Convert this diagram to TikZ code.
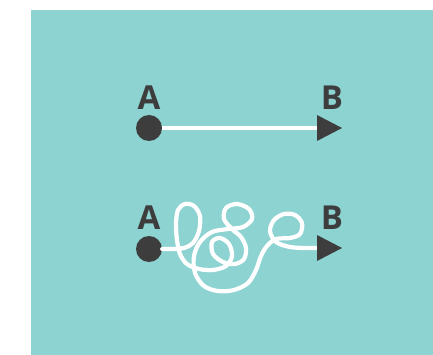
\documentclass[tikz,border=0pt]{standalone}
\usepackage{fontspec}
\setmainfont{Open Sans}
\usetikzlibrary{arrows.meta}
\definecolor{bgteal}{HTML}{8DD3D2}
\definecolor{dk}{HTML}{3D3D3D}
\tikzset{
  dotnode/.style={circle,fill=dk,minimum size=26pt,inner sep=0pt},
  lab/.style={text=dk,font=\fontsize{33}{33}\selectfont\bfseries,inner sep=0pt,anchor=base},
  wire/.style={white,line width=4.2pt,line cap=round,line join=round},
  tip/.style={-{Triangle[length=25pt,width=26pt,line width=0pt,color=dk]}}
}
\begin{document}
\begin{tikzpicture}[x=1pt,y=-1pt]
\useasboundingbox (0,0) rectangle (433,355);
\fill[bgteal] (31,10) rectangle (433,355);
% top row
\node[lab] (la1) at (149,109.5) {A};
\node[lab] (lb1) at (332,109.5) {B};
\coordinate (b1) at (342,128);
\node[dotnode] (a1) at (149,128) {};
\draw[wire,line cap=butt,tip] (a1.east) -- (b1);
% bottom row
\node[lab] (la2) at (149,229.5) {A};
\node[lab] (lb2) at (332,229.5) {B};
\coordinate (b2) at (342,248);
\node[dotnode] (a2) at (149,249) {};
\draw[wire] (a2.east) -- plot[smooth,tension=0.55] coordinates {
 (172,249) (184,248) (193,243) (199,231) (200,216) (194,206) (185,204) (178,210)
 (176,224) (177,240) (180,254) (187,264) (199,269) (213,270) (226,266) (232,256)
 (229,244) (220,238) (212,242) (213,254) (223,262) (235,264) (244,259) (246,248)
 (241,237) (232,229) (224,219) (226,208) (237,204) (249,209) (252,219) (243,227)
 (228,229) (212,232) (200,242) (194,256) (195,273) (204,286) (218,291) (234,290)
 (248,283) (256,270) (261,256) (267,246) (276,239) (290,238) (300,234) (302,223)
 (295,215) (284,214) (274,220) (270,231) (276,242) (290,247) (305,248)
} -- (316,248);
\draw[wire,line cap=butt,tip] (310,248) -- (b2);
\end{tikzpicture}
\end{document}
